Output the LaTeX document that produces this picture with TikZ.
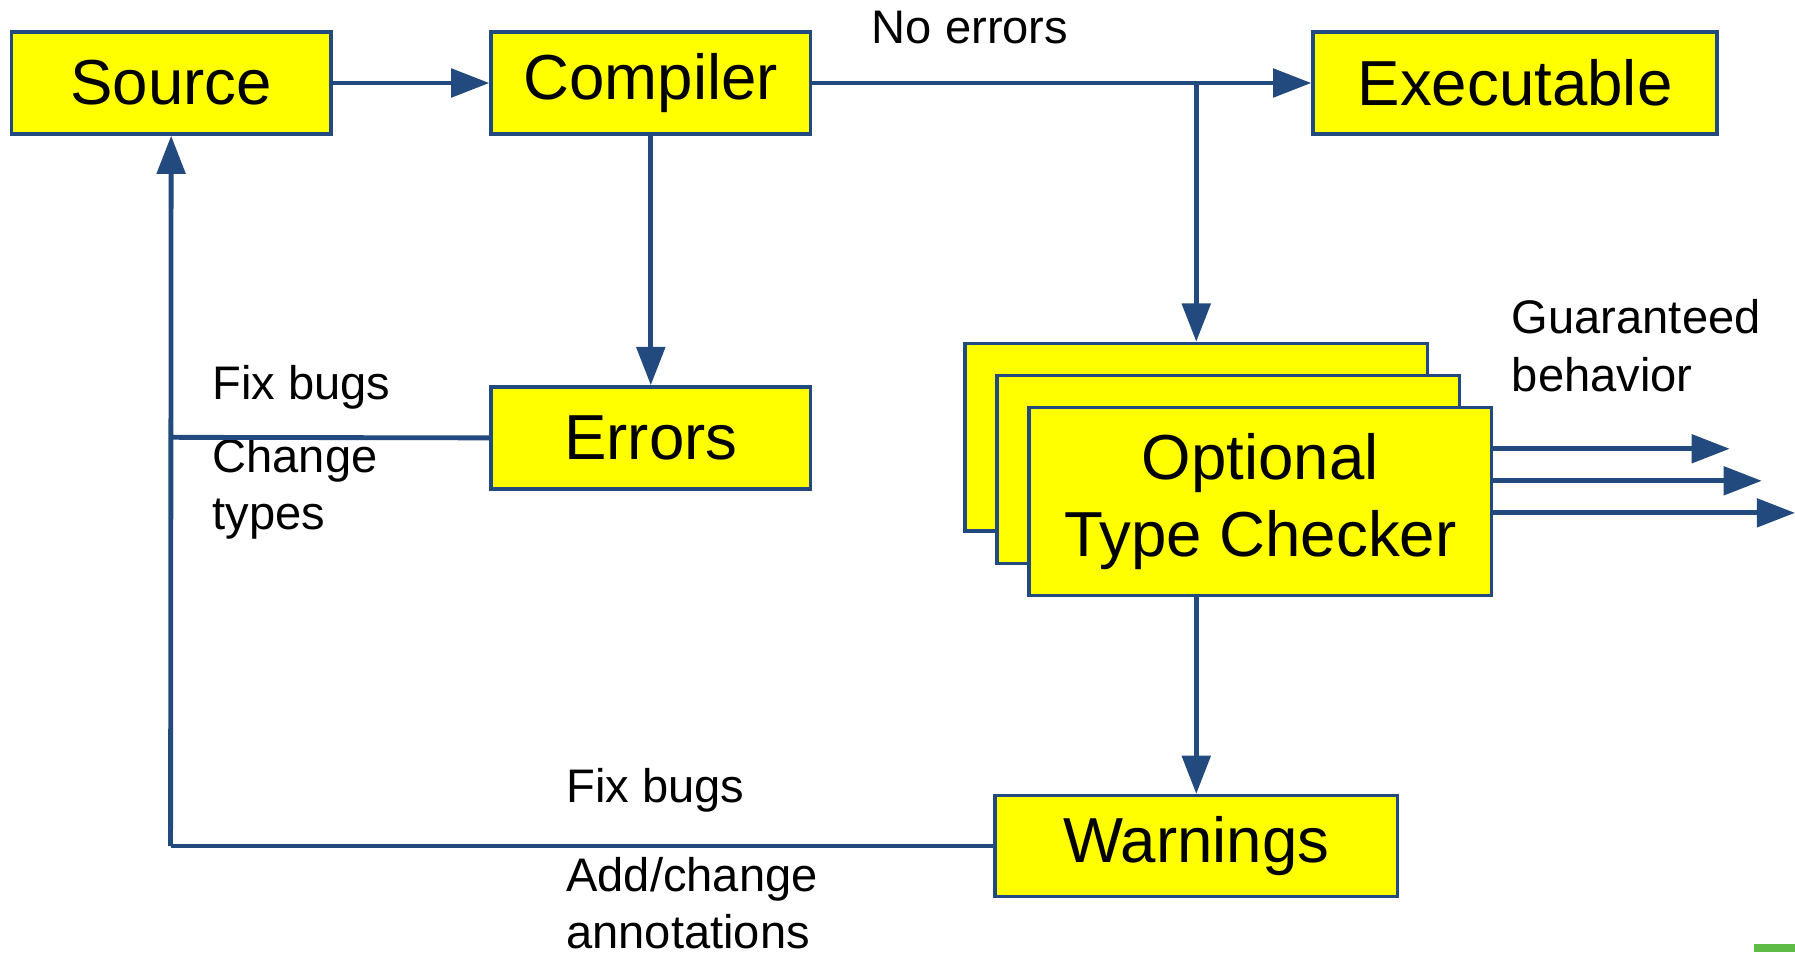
\documentclass[tikz,border=0pt]{standalone}
\usepackage{fontspec}
\setmainfont{Liberation Sans}
\usetikzlibrary{arrows.meta}
\definecolor{lineblue}{HTML}{224A7E}
\definecolor{boxyellow}{HTML}{FFFF00}
\definecolor{slidegreen}{HTML}{5DBB46}
\tikzset{
  box/.style={draw=lineblue, line width=0.85pt, fill=boxyellow, inner sep=0pt, font=\fontsize{15.8}{19}\selectfont},
  conn/.style={draw=lineblue, line width=1.2pt},
  arr/.style={conn, -{Triangle[length=9.5pt,width=7pt]}},
  lbl/.style={inner sep=0pt, align=left, font=\fontsize{11.7}{14.2}\selectfont},
}
\begin{document}
\begin{tikzpicture}[x=0.01cm,y=-0.01cm]
\useasboundingbox (0,0) rectangle (1568,832);
% boxes
\node[box, minimum width=279*0.01cm, minimum height=89*0.01cm] (src) at (149.5,72.5) {Source};
\node[box, minimum width=279*0.01cm, minimum height=89*0.01cm] (comp) at (568.5,72.5) {Compiler};
\node[box, minimum width=353*0.01cm, minimum height=89*0.01cm] (exe) at (1323.5,72.5) {Executable};
\node[box, minimum width=279*0.01cm, minimum height=89*0.01cm] (err) at (568.5,382.5) {Errors};
\node[box, minimum width=404*0.01cm, minimum height=164*0.01cm] (tc3) at (1045,382) {};
\node[box, minimum width=404*0.01cm, minimum height=164*0.01cm] (tc2) at (1073,410) {};
\node[box, minimum width=404*0.01cm, minimum height=164*0.01cm, align=center] (tc) at (1101,438) {Optional\\Type Checker};
\node[box, minimum width=352*0.01cm, minimum height=88*0.01cm] (warn) at (1045,739) {Warnings};
% labels
\node[lbl, anchor=west] (noerr) at (761,24) {No errors};
\node[lbl, anchor=west] (fix1) at (185,338) {Fix bugs};
\node[lbl, anchor=west] (chg) at (185,427) {Change\\types};
\node[lbl, anchor=west] (fix2) at (494,690) {Fix bugs};
\node[lbl, anchor=west] (ann) at (494,789) {Add/change\\annotations};
\node[lbl, anchor=west] (guar) at (1320,302) {Guaranteed\\behavior};
% coordinates
\coordinate (br) at (1045,72);
\coordinate (lb) at (149,739);
\coordinate (le) at (149,382);
\coordinate (o1) at (1511,392);
\coordinate (o2) at (1539,420);
\coordinate (o3) at (1568,448);
% connectors
\draw[arr] (src.east) -- (comp.west);
\draw[arr] (comp.east) -- (exe.west);
\draw[arr] (br) -- (tc3.north);
\draw[arr] (comp.south) -- (err.north);
\draw[arr] (tc.south -| warn.north) -- (warn.north);
\draw[conn] (warn.west) -- (lb);
\draw[arr] (lb) -- (src.south);
\draw[conn] (err.west) -- (le);
\draw[arr] (tc.east |- o1) -- (o1);
\draw[arr] (tc.east |- o2) -- (o2);
\draw[arr] (tc.east |- o3) -- (o3);
% slide marker
\fill[slidegreen] (1532,825) rectangle (1568,832);
\end{tikzpicture}
\end{document}
